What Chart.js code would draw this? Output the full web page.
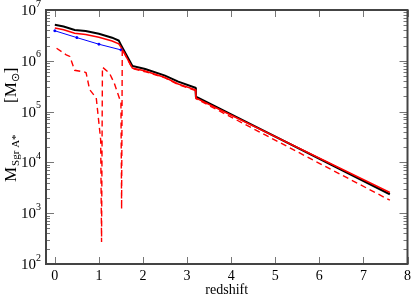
<!DOCTYPE html>
<html>
<head>
<meta charset="utf-8">
<script src="https://cdn.jsdelivr.net/npm/chart.js@4"></script>
<style>
  html, body { margin: 0; padding: 0; background: #fff; }
  #wrap { width: 415px; height: 299px; }
</style>
</head>
<body>
<div id="wrap"><canvas id="massplot"></canvas></div>
<script>
// redshift ticks and y decades
const xTicks = [0, 1, 2, 3, 4, 5, 6, 7, 8];
const yDecades = [2, 3, 4, 5, 6, 7];

// black solid
const blackZ = [0, 0.2, 0.45, 0.7, 1.0, 1.3, 1.45, 1.5, 1.76, 2.05, 2.5, 2.8, 3.19, 3.2, 7.6];
const blackM = [5.1e6, 4.75e6, 4.05e6, 3.85e6, 3.4e6, 2.85e6, 2.5e6, 2.06e6, 7.9e5, 6.9e5, 5.1e5, 3.9e5, 2.95e5, 1.97e5, 2360];

// red solid
const redZ = [0, 0.2, 0.45, 0.7, 1.0, 1.3, 1.45, 1.5, 1.76, 2.05, 2.5, 2.8, 3.19, 3.2, 7.6];
const redM = [4.4e6, 4.1e6, 3.5e6, 3.3e6, 2.9e6, 2.45e6, 2.15e6, 1.86e6, 7.2e5, 6.3e5, 4.7e5, 3.5e5, 2.7e5, 1.85e5, 2550];

// blue with markers
const blueZ = [0, 0.5, 1.0, 1.5];
const blueM = [3.9e6, 2.86e6, 2.12e6, 1.64e6];

// red dashed
const dashZ = [0.04, 0.26, 0.34, 0.45, 0.68, 0.71, 0.79, 0.94, 1.04, 1.06, 1.08, 1.24, 1.35, 1.5, 1.515, 1.53, 1.76, 2.05, 2.5, 2.8, 3.19, 3.2, 7.6];
const dashM = [1.77e6, 1.31e6, 1.22e6, 6.5e5, 6.0e5, 5.8e5, 2.7e5, 1.86e5, 2.8e4, 270, 7.5e5, 5.7e5, 3.6e5, 1.5e5, 1200, 1.7e6, 7.0e5, 6.1e5, 4.6e5, 3.4e5, 2.6e5, 1.8e5, 1800];

const pts = (xs, ys) => xs.map((x, i) => ({ x: x, y: ys[i] }));

const serif = '"Liberation Serif", "Times New Roman", serif';

// frame, inside ticks, y labels with exponents, y title
const framePlugin = {
  id: 'frame',
  afterDraw(chart) {
    const c = chart.ctx;
    const a = chart.chartArea;
    const xs = chart.scales.x;
    const ys = chart.scales.y;
    c.save();
    c.strokeStyle = '#777';
    c.lineWidth = 1;
    c.beginPath();
    xTicks.forEach(v => {
      const px = Math.round(xs.getPixelForValue(v)) + 0.5;
      c.moveTo(px, a.bottom); c.lineTo(px, a.bottom - 7);
      c.moveTo(px, a.top); c.lineTo(px, a.top + 7);
    });
    for (let d = 2; d < 7; d++) {
      for (let m = 1; m < 10; m++) {
        const py = Math.round(ys.getPixelForValue(m * Math.pow(10, d))) + 0.5;
        const len = m === 1 ? 8 : 4;
        c.moveTo(a.left, py); c.lineTo(a.left + len, py);
        c.moveTo(a.right, py); c.lineTo(a.right - len, py);
      }
    }
    c.stroke();

    c.strokeStyle = '#444';
    c.lineWidth = 2;
    c.strokeRect(a.left, a.top, a.right - a.left, a.bottom - a.top);

    // y tick labels 10^n
    c.fillStyle = '#000';
    c.textBaseline = 'middle';
    yDecades.forEach(d => {
      const py = ys.getPixelForValue(Math.pow(10, d));
      c.font = '10px ' + serif;
      const ew = c.measureText(String(d)).width;
      c.textAlign = 'right';
      c.fillText(String(d), a.left - 5, py - 6);
      c.font = '15px ' + serif;
      c.fillText('10', a.left - 5 - ew, py + 1);
    });

    // y title
    c.translate(16, 0);
    c.rotate(-Math.PI / 2);
    c.textAlign = 'left';
    c.textBaseline = 'alphabetic';
    let x = -182;
    c.font = '17px ' + serif;
    c.fillText('M', x, 0);
    x += c.measureText('M').width + 1;
    c.font = '11px ' + serif;
    c.fillText('Sgr A*', x, 3);
    c.font = '17px ' + serif;
    x = -103;
    c.fillText('[M', x, 0);
    x += c.measureText('[M').width;
    c.font = '11px ' + serif;
    c.fillText('\u2299', x, 3);
    x += c.measureText('\u2299').width;
    c.font = '17px ' + serif;
    c.fillText(']', x, 0);
    c.restore();
  }
};

new Chart(document.getElementById('massplot'), {
  type: 'scatter',
  data: {
    datasets: [
      {
        label: 'red dashed',
        data: pts(dashZ, dashM),
        showLine: true,
        borderColor: '#ff0000',
        borderWidth: 1.4,
        borderDash: [6, 4],
        pointRadius: 0,
        tension: 0
      },
      {
        label: 'blue',
        data: pts(blueZ, blueM),
        showLine: true,
        borderColor: '#0000ff',
        backgroundColor: '#0000ff',
        borderWidth: 1,
        pointRadius: 1.2,
        pointStyle: 'rect',
        tension: 0
      },
      {
        label: 'red',
        data: pts(redZ, redM),
        showLine: true,
        borderColor: '#ff0000',
        borderWidth: 1.5,
        pointRadius: 0,
        tension: 0
      },
      {
        label: 'black',
        data: pts(blackZ, blackM),
        showLine: true,
        borderColor: '#000000',
        borderWidth: 2,
        pointRadius: 0,
        tension: 0
      }
    ]
  },
  options: {
    responsive: true,
    maintainAspectRatio: false,
    animation: false,
    layout: { padding: { top: 10, right: 6, left: 0, bottom: 0 } },
    plugins: {
      legend: { display: false },
      tooltip: { enabled: false }
    },
    scales: {
      x: {
        type: 'linear',
        min: -0.2,
        max: 8,
        afterBuildTicks: s => { s.ticks = xTicks.map(v => ({ value: v })); },
        afterFit: s => { s.height = 35; },
        grid: { display: false, drawTicks: false },
        border: { display: false },
        ticks: {
          padding: 4,
          color: '#000',
          font: { family: serif, size: 14 },
          maxRotation: 0
        },
        title: {
          display: true,
          text: 'redshift',
          color: '#000',
          font: { family: serif, size: 14 },
          padding: { top: 1, bottom: 0 }
        }
      },
      y: {
        type: 'logarithmic',
        min: 100,
        max: 1e7,
        afterFit: s => { s.width = 46; },
        grid: { display: false, drawTicks: false },
        border: { display: false },
        ticks: { display: false }
      }
    }
  },
  plugins: [framePlugin]
});
</script>
</body>
</html>
